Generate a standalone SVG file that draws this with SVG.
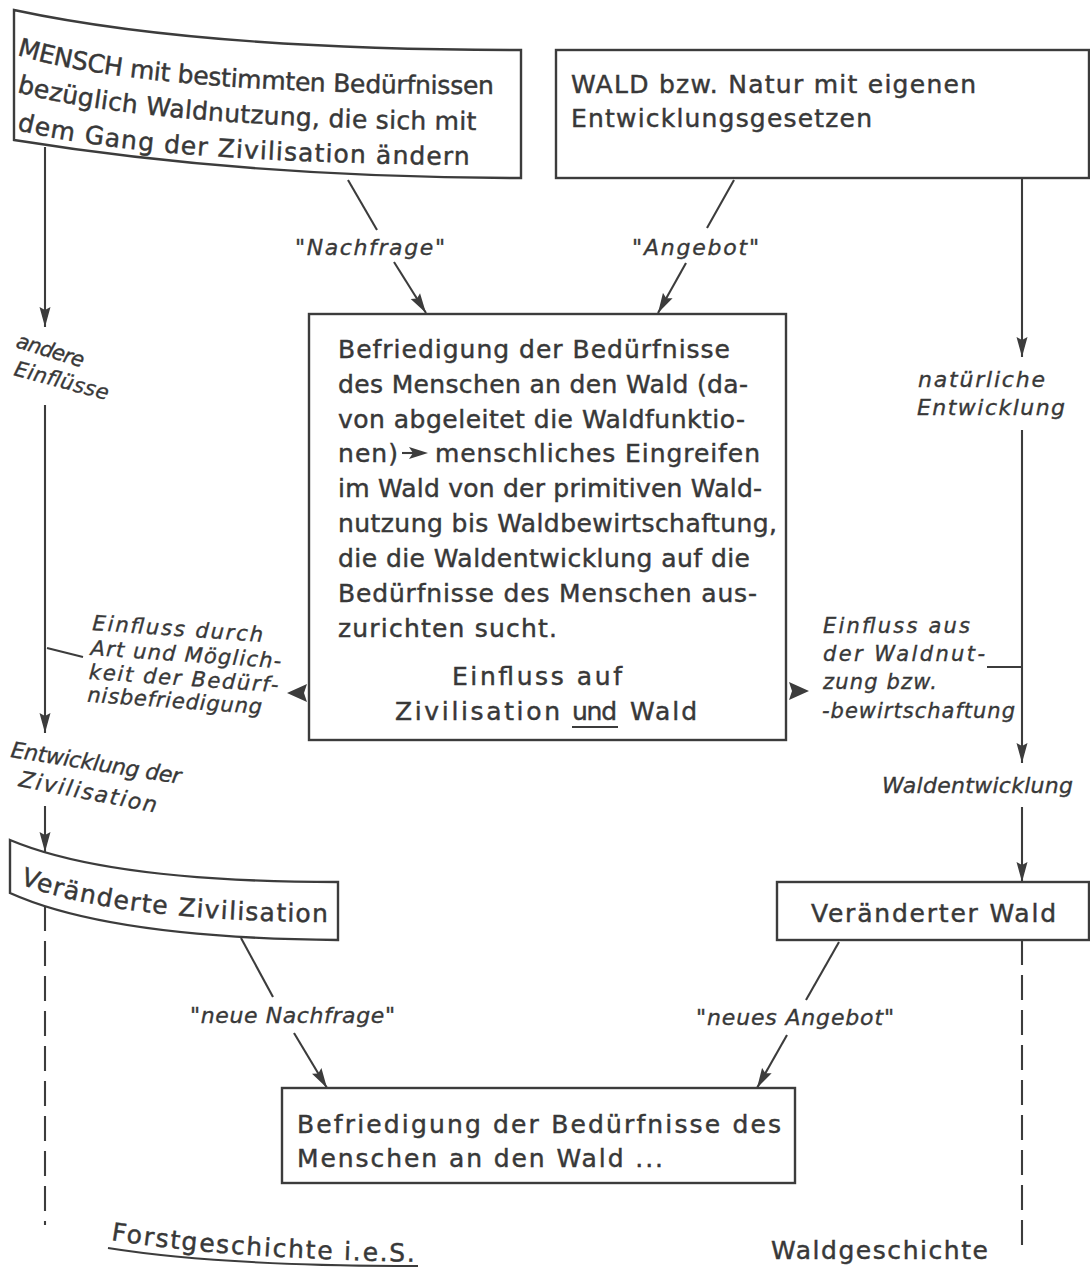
<svg xmlns="http://www.w3.org/2000/svg" width="1090" height="1267" viewBox="0 0 1090 1267">
<style>
.box{fill:none;stroke:#3c3c3c;stroke-width:2.4}
.ln{fill:none;stroke:#3c3c3c;stroke-width:2.1}
.dash{stroke-dasharray:25 10}
.t{font-family:"DejaVu Sans","Liberation Sans",sans-serif;font-size:25px;fill:#383838;stroke:#383838;stroke-width:0.45}
.i{font-family:"DejaVu Sans","Liberation Sans",sans-serif;font-style:italic;font-size:22px;fill:#383838;stroke:#383838;stroke-width:0.35}
.s{font-size:21px}
.ah{fill:#3c3c3c}
</style>
<defs>
<marker id="ah" markerUnits="userSpaceOnUse" markerWidth="22" markerHeight="12" refX="20" refY="6" orient="auto">
<path d="M0,0.5 L20,6 L0,11.5 L3,6 z" fill="#3c3c3c"/>
</marker>
<path id="p1" d="M17,55 Q150,95 500,94"/>
<path id="p2" d="M17,92 Q150,128 480,130"/>
<path id="p3" d="M17,130 Q150,163 480,165"/>
<path id="pvz" d="M20,884 Q120,922 336,922"/>
<path id="pfg" d="M111,1240 Q220,1258 420,1262"/>
</defs>

<g id="connectors">
<path class="ln" d="M45,147 V327" marker-end="url(#ah)"/>
<path class="ln" d="M45,405 V733" marker-end="url(#ah)"/>
<path class="ln" d="M47,648 L83,657"/>
<path class="ln" d="M45,806 V852" marker-end="url(#ah)"/>
<path class="ln dash" d="M45,906 V1225"/>
<path class="ln" d="M1022,178 V357" marker-end="url(#ah)"/>
<path class="ln" d="M1022,430 V763" marker-end="url(#ah)"/>
<path class="ln" d="M987,667 H1022"/>
<path class="ln" d="M1022,807 V882" marker-end="url(#ah)"/>
<path class="ln dash" d="M1022,940 V1253"/>
<path class="ln" d="M348,180 L377,230"/>
<path class="ln" d="M394,262 L426,313" marker-end="url(#ah)"/>
<path class="ln" d="M734,180 L707,228"/>
<path class="ln" d="M686,263 L658,313" marker-end="url(#ah)"/>
<path class="ln" d="M241,938 L273,997"/>
<path class="ln" d="M294,1033 L327,1088" marker-end="url(#ah)"/>
<path class="ln" d="M839,942 L806,1000"/>
<path class="ln" d="M787,1035 L757,1088" marker-end="url(#ah)"/>
<path class="ah" d="M287,693 L307,684 L304,693 L307,702 z"/>
<path class="ah" d="M809,691 L789,682 L792,691 L789,700 z"/>
<text class="i" x="295" y="255" textLength="150" lengthAdjust="spacing">"Nachfrage"</text>
<text class="i" x="632" y="255" textLength="127" lengthAdjust="spacing">"Angebot"</text>
<text class="i" x="190" y="1023" textLength="205" lengthAdjust="spacing">"neue Nachfrage"</text>
<text class="i" x="696" y="1025" textLength="198" lengthAdjust="spacing">"neues Angebot"</text>
<text class="i s" transform="rotate(17 15 347)" x="15" y="347" textLength="70" lengthAdjust="spacing">andere</text>
<text class="i s" transform="rotate(15 13 375)" x="13" y="375" textLength="97" lengthAdjust="spacing">Einflüsse</text>
<text class="i" x="918" y="387" textLength="127" lengthAdjust="spacing">natürliche</text>
<text class="i" x="917" y="415" textLength="148" lengthAdjust="spacing">Entwicklung</text>
<g transform="rotate(4 92 630)">
<text class="i s" x="92" y="630" textLength="171" lengthAdjust="spacing">Einfluss durch</text>
<text class="i s" x="92" y="655" textLength="191" lengthAdjust="spacing">Art und Möglich-</text>
<text class="i s" x="92" y="679" textLength="190" lengthAdjust="spacing">keit der Bedürf-</text>
<text class="i s" x="92" y="702" textLength="175" lengthAdjust="spacing">nisbefriedigung</text>
</g>
<text class="i s" x="823" y="633" textLength="147" lengthAdjust="spacing">Einfluss aus</text>
<text class="i s" x="823" y="661" textLength="162" lengthAdjust="spacing">der Waldnut-</text>
<text class="i s" x="823" y="689" textLength="114" lengthAdjust="spacing">zung bzw.</text>
<text class="i s" x="822" y="718" textLength="193" lengthAdjust="spacing">-bewirtschaftung</text>
<text class="i" transform="rotate(9 10 757)" x="10" y="757" textLength="172" lengthAdjust="spacing">Entwicklung der</text>
<text class="i" transform="rotate(11 18 786)" x="18" y="786" textLength="140" lengthAdjust="spacing">Zivilisation</text>
<text class="i" x="882" y="793" textLength="191" lengthAdjust="spacing">Waldentwicklung</text>
</g>

<g id="mensch">
<path class="box" d="M14,10 Q200,50 521,50 L521,178 Q250,178 14,140 Z"/>
<text class="t"><textPath href="#p1" textLength="480" lengthAdjust="spacing">MENSCH mit bestimmten Bedürfnissen</textPath></text>
<text class="t"><textPath href="#p2" textLength="462" lengthAdjust="spacing">bezüglich Waldnutzung, die sich mit</textPath></text>
<text class="t"><textPath href="#p3" textLength="455" lengthAdjust="spacing">dem Gang der Zivilisation ändern</textPath></text>
</g>

<g id="wald">
<rect class="box" x="556" y="50" width="533" height="128"/>
<text class="t" x="571" y="93" textLength="405" lengthAdjust="spacing">WALD bzw. Natur mit eigenen</text>
<text class="t" x="571" y="127" textLength="301" lengthAdjust="spacing">Entwicklungsgesetzen</text>
</g>

<g id="befriedigung">
<rect class="box" x="309" y="314" width="477" height="426"/>
<text class="t" x="338" y="358" textLength="392" lengthAdjust="spacing">Befriedigung der Bedürfnisse</text>
<text class="t" x="338" y="393" textLength="410" lengthAdjust="spacing">des Menschen an den Wald (da-</text>
<text class="t" x="338" y="428" textLength="407" lengthAdjust="spacing">von abgeleitet die Waldfunktio-</text>
<text class="t" x="338" y="462" textLength="60" lengthAdjust="spacing">nen)</text>
<path class="ln" d="M402,453 H414"/>
<path class="ah" d="M409,447 L428,453 L409,459 L413,453 z"/>
<text class="t" x="435" y="462" textLength="325" lengthAdjust="spacing">menschliches Eingreifen</text>
<text class="t" x="338" y="497" textLength="424" lengthAdjust="spacing">im Wald von der primitiven Wald-</text>
<text class="t" x="338" y="532" textLength="439" lengthAdjust="spacing">nutzung bis Waldbewirtschaftung,</text>
<text class="t" x="338" y="567" textLength="412" lengthAdjust="spacing">die die Waldentwicklung auf die</text>
<text class="t" x="338" y="602" textLength="419" lengthAdjust="spacing">Bedürfnisse des Menschen aus-</text>
<text class="t" x="338" y="637" textLength="219" lengthAdjust="spacing">zurichten sucht.</text>
<text class="t" x="452" y="685" textLength="170" lengthAdjust="spacing">Einfluss auf</text>
<text class="t" x="395" y="720" textLength="165" lengthAdjust="spacing">Zivilisation</text>
<text class="t" x="572" y="720" textLength="45" lengthAdjust="spacing">und</text>
<path class="ln" d="M572,727 H618"/>
<text class="t" x="630" y="720" textLength="67" lengthAdjust="spacing">Wald</text>
</g>

<g id="veraenderte-zivilisation">
<path class="box" d="M10,840 Q110,882 338,882 L338,940 Q110,938 10,893 Z"/>
<text class="t"><textPath href="#pvz" textLength="312" lengthAdjust="spacing">Veränderte Zivilisation</textPath></text>
</g>

<g id="veraenderter-wald">
<rect class="box" x="777" y="882" width="312" height="58"/>
<text class="t" x="811" y="922" textLength="245" lengthAdjust="spacing">Veränderter  Wald</text>
</g>

<g id="befriedigung-neu">
<rect class="box" x="282" y="1088" width="513" height="95"/>
<text class="t" x="297" y="1133" textLength="484" lengthAdjust="spacing">Befriedigung der Bedürfnisse des</text>
<text class="t" x="297" y="1167" textLength="366" lengthAdjust="spacing">Menschen  an den Wald ...</text>
</g>

<g id="forstgeschichte">
<text class="t"><textPath href="#pfg" textLength="305" lengthAdjust="spacing">Forstgeschichte i.e.S.</textPath></text>
<path class="ln" d="M108,1248 Q220,1266 418,1266"/>
</g>

<g id="waldgeschichte">
<text class="t" x="771" y="1259" textLength="217" lengthAdjust="spacing">Waldgeschichte</text>
</g>
</svg>
